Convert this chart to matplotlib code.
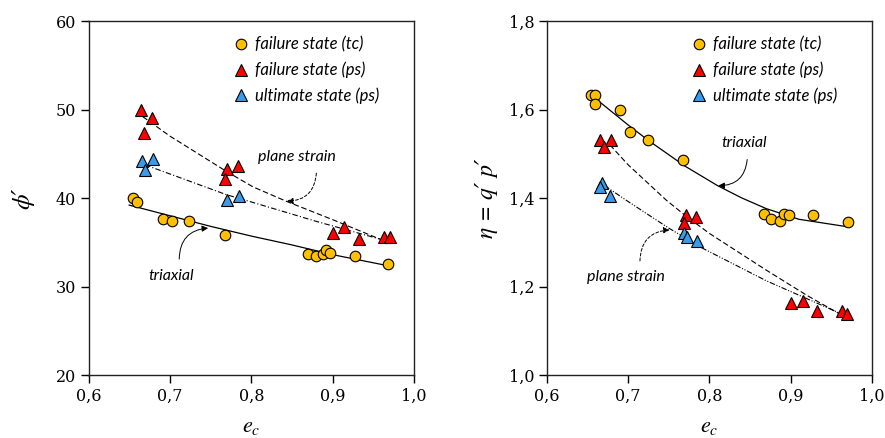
import matplotlib
matplotlib.use("Agg")
import matplotlib.pyplot as plt
from matplotlib.ticker import FuncFormatter, MultipleLocator

# ---------------- data ----------------
# Left panel: friction angle phi' vs e_c
tc_e_L = [0.655, 0.660, 0.692, 0.703, 0.723, 0.768, 0.870, 0.879, 0.888, 0.892, 0.897, 0.927, 0.968]
tc_phi = [40.0, 39.5, 37.65, 37.4, 37.45, 35.8, 33.7, 33.4, 33.7, 34.15, 33.8, 33.5, 32.6]

psf_e_L = [0.6645, 0.678, 0.668, 0.770, 0.784, 0.768, 0.900, 0.914, 0.932, 0.963, 0.970]
psf_phi = [49.9, 49.0, 47.4, 43.3, 43.6, 42.1, 36.0, 36.7, 35.4, 35.6, 35.6]

psu_e_L = [0.666, 0.679, 0.669, 0.770, 0.785]
psu_phi = [44.2, 44.4, 43.2, 39.8, 40.2]

# trend lines (left)
tri_line_e_L = [0.650, 0.700, 0.750, 0.800, 0.850, 0.900, 0.968]
tri_line_phi = [39.2, 38.0, 36.8, 35.7, 34.7, 33.6, 32.35]
psf_line_e_L = [0.6666, 0.700, 0.7698, 0.8021, 0.8439, 0.9004, 0.9581]
psf_line_phi = [49.2, 47.0, 42.99, 41.26, 39.6, 37.54, 35.36]
psu_line_e_L = [0.6694, 0.770, 0.7984, 0.8803, 0.9581]
psu_line_phi = [43.75, 40.36, 39.6, 37.35, 35.36]

# Right panel: stress ratio eta vs e_c
tc_e_R = [0.654, 0.659, 0.659, 0.6895, 0.702, 0.725, 0.767, 0.8675, 0.876, 0.887, 0.892, 0.898, 0.928, 0.970]
tc_eta = [1.633, 1.633, 1.612, 1.600, 1.550, 1.530, 1.487, 1.364, 1.352, 1.349, 1.364, 1.362, 1.362, 1.345]

psf_e_R = [0.665, 0.679, 0.6705, 0.7715, 0.784, 0.769, 0.901, 0.915, 0.933, 0.963, 0.969]
psf_eta = [1.530, 1.530, 1.516, 1.362, 1.356, 1.344, 1.162, 1.167, 1.145, 1.145, 1.139]

psu_e_R = [0.668, 0.665, 0.678, 0.769, 0.772, 0.785]
psu_eta = [1.435, 1.425, 1.405, 1.322, 1.311, 1.303]

tri_line_e_R = [0.657, 0.700, 0.725, 0.770, 0.810, 0.840, 0.870, 0.910, 0.970]
tri_line_eta = [1.629, 1.565, 1.530, 1.472, 1.428, 1.400, 1.376, 1.352, 1.335]
psf_line_e_R = [0.6775, 0.700, 0.747, 0.772, 0.800, 0.870, 0.920, 0.965]
psf_line_eta = [1.520, 1.475, 1.395, 1.358, 1.320, 1.237, 1.180, 1.133]
psu_line_e_R = [0.671, 0.700, 0.750, 0.790, 0.870, 0.965]
psu_line_eta = [1.428, 1.392, 1.332, 1.288, 1.213, 1.136]

legend_labels = ["failure state (tc)", "failure state (ps)", "ultimate state (ps)"]

# ---------------- style ----------------
YELLOW = "#FFC000"
RED = "#FF0000"
BLUE = "#3B9BE8"
plt.rcParams["mathtext.fontset"] = "stix"
TICKFONT = "DejaVu Serif"
TXTFONT = "Lato"
MATHFONT = ["STIXGeneral", "DejaVu Serif"]

fig = plt.figure(figsize=(8.85, 4.38), dpi=100)
axL = fig.add_axes([0.100, 0.1438, 0.3678, 0.8082])
axR = fig.add_axes([0.618, 0.1438, 0.3672, 0.8082])

comma = FuncFormatter(lambda v, p: ("%.1f" % v).replace(".", ","))
comma0 = FuncFormatter(lambda v, p: "%d" % round(v))

def style_axes(ax):
    for s in ax.spines.values():
        s.set_linewidth(1.0)
        s.set_color("#222222")
    ax.tick_params(direction="out", length=6, width=1.0, labelsize=11.5,
                   top=False, right=False, pad=3)
    for lab in ax.get_xticklabels() + ax.get_yticklabels():
        lab.set_family(TICKFONT)
    ax.xaxis.set_major_locator(MultipleLocator(0.1))
    ax.xaxis.set_major_formatter(comma)

msz_c = 7.6
msz_t = 8.4
mew = 0.8

def scatter(ax, e, y, marker, color, ms, label):
    ax.plot(e, y, linestyle="none", marker=marker, markersize=ms,
            markerfacecolor=color, markeredgecolor="black",
            markeredgewidth=mew, label=label, zorder=3)

TXT = dict(fontsize=11.5, family=TXTFONT, style="italic", ha="center", va="center")

def arrow(ax, tip, start, dashed, rad):
    props = dict(arrowstyle="-|>", color="black", lw=0.7,
                 connectionstyle="arc3,rad=%s" % rad, mutation_scale=9, shrinkA=0, shrinkB=0)
    if dashed:
        props["linestyle"] = (0, (3, 2))
    ax.annotate("", xy=tip, xytext=start, arrowprops=props)

# ---- left ----
axL.plot(tri_line_e_L, tri_line_phi, color="black", lw=0.9, zorder=2)
axL.plot(psf_line_e_L, psf_line_phi, color="black", lw=0.8, dashes=(5, 2.5), zorder=2)
axL.plot(psu_line_e_L, psu_line_phi, color="black", lw=0.8, dashes=(5, 2, 1, 2), zorder=2)
scatter(axL, tc_e_L, tc_phi, "o", YELLOW, msz_c, legend_labels[0])
scatter(axL, psf_e_L, psf_phi, "^", RED, msz_t, legend_labels[1])
scatter(axL, psu_e_L, psu_phi, "^", BLUE, msz_t, legend_labels[2])
axL.set_xlim(0.6, 1.0)
axL.set_ylim(20, 60)
axL.yaxis.set_major_locator(MultipleLocator(10))
axL.yaxis.set_major_formatter(comma0)
style_axes(axL)
axL.set_ylabel("ϕ′", fontsize=18, family=MATHFONT, style="italic")
axL.yaxis.set_label_coords(-0.165, 0.5)
axL.set_xlabel(r"$e_c$", fontsize=16)
axL.xaxis.set_label_coords(0.5, -0.12)

axL.text(0.856, 44.6, "plane strain", **TXT)
arrow(axL, (0.8439, 39.65), (0.880, 42.8), True, -0.45)
axL.text(0.702, 31.2, "triaxial", **TXT)
arrow(axL, (0.747, 36.6), (0.7115, 33.1), False, -0.45)

# ---- right ----
axR.plot(tri_line_e_R, tri_line_eta, color="black", lw=0.9, zorder=2)
axR.plot(psf_line_e_R, psf_line_eta, color="black", lw=0.8, dashes=(5, 2.5), zorder=2)
axR.plot(psu_line_e_R, psu_line_eta, color="black", lw=0.8, dashes=(5, 1.5, 1, 1.5, 1, 1.5), zorder=2)
scatter(axR, tc_e_R, tc_eta, "o", YELLOW, msz_c, legend_labels[0])
scatter(axR, psf_e_R, psf_eta, "^", RED, msz_t, legend_labels[1])
scatter(axR, psu_e_R, psu_eta, "^", BLUE, msz_t, legend_labels[2])
axR.set_xlim(0.6, 1.0)
axR.set_ylim(1.0, 1.8)
axR.yaxis.set_major_locator(MultipleLocator(0.2))
axR.yaxis.set_major_formatter(comma)
style_axes(axR)
axR.set_ylabel("η = q′ p′", fontsize=17, family=MATHFONT, style="italic")
axR.yaxis.set_label_coords(-0.15, 0.5)
axR.set_xlabel(r"$e_c$", fontsize=16)
axR.xaxis.set_label_coords(0.5, -0.12)

axR.text(0.843, 1.524, "triaxial", **TXT)
arrow(axR, (0.811, 1.428), (0.8465, 1.487), False, -0.45)
axR.text(0.697, 1.221, "plane strain", **TXT)
arrow(axR, (0.751, 1.328), (0.7145, 1.258), True, -0.45)

for ax in (axL, axR):
    ax.legend(loc="upper right", frameon=False, prop=dict(family=TXTFONT, style="italic", size=12),
              handletextpad=0.25, labelspacing=0.55, borderaxespad=0.0, handlelength=1.2,
              bbox_to_anchor=(0.915, 0.975))

fig.savefig("out.png", dpi=100)
